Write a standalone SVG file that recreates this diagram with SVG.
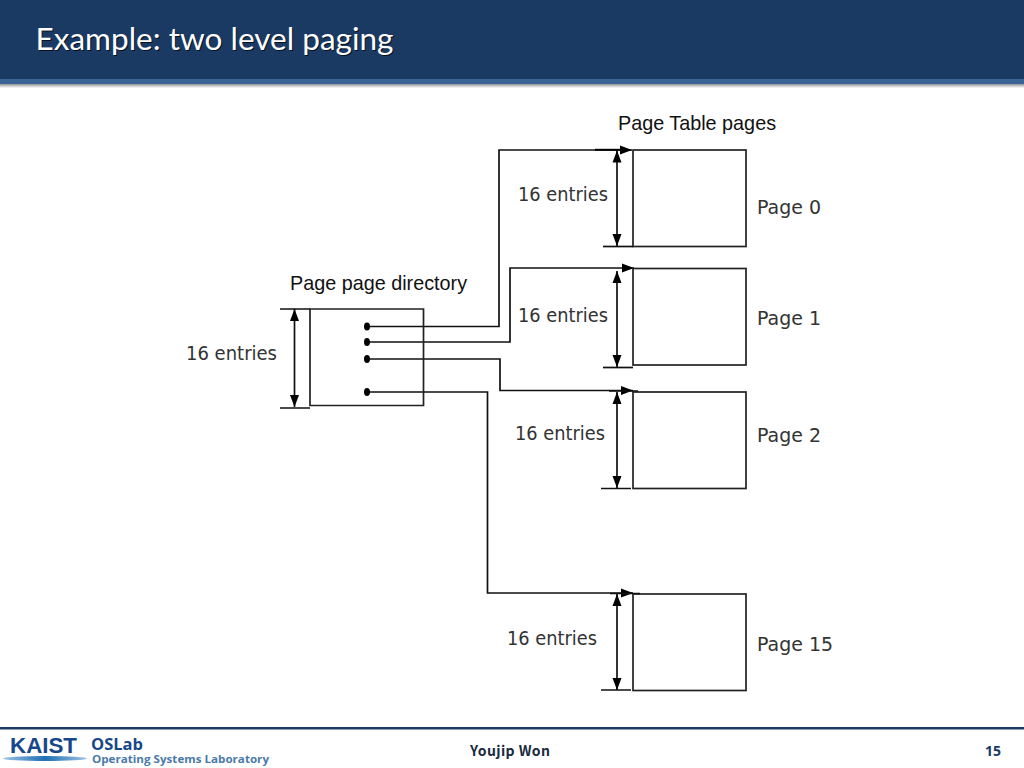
<svg xmlns="http://www.w3.org/2000/svg" width="1024" height="768" viewBox="0 0 1024 768">
<defs>
<linearGradient id="sh" x1="0" y1="0" x2="0" y2="1"><stop offset="0" stop-color="#8f9299"/><stop offset="1" stop-color="#ffffff"/></linearGradient>
<linearGradient id="sw" x1="0" y1="0" x2="1" y2="0"><stop offset="0" stop-color="#9cc3e6"/><stop offset="0.5" stop-color="#1f6fb2"/><stop offset="1" stop-color="#9cc3e6"/></linearGradient>
<marker id="a" viewBox="0 0 12 10" refX="12" refY="5" markerWidth="12" markerHeight="10" markerUnits="userSpaceOnUse" orient="auto-start-reverse"><path d="M0 0.500L12 5L0 9.500Z" fill="#000"/></marker>
<marker id="b" viewBox="0 0 12 10" refX="12" refY="5" markerWidth="12" markerHeight="10" markerUnits="userSpaceOnUse" orient="auto"><path d="M0 0.500L12 5L0 9.500Z" fill="#000"/></marker>
</defs>
<style>
.box{fill:#fff;stroke:#222;stroke-width:1.7}
.ln{fill:none;stroke:#111;stroke-width:1.7}
.dim{fill:none;stroke:#111;stroke-width:1.7;marker-start:url(#a);marker-end:url(#a)}
.arr{fill:none;stroke:#111;stroke-width:1.7;marker-end:url(#b)}
.k{font-family:"DejaVu Sans",sans-serif;font-size:19px;fill:#333}
.s{font-family:"Liberation Sans",Arial,sans-serif;font-size:19.800px;fill:#111}
</style>
<g id="header">
<rect x="0" y="0" width="1024" height="79" fill="#1a3a63"/>
<rect x="0" y="79" width="1024" height="5" fill="#3a6494"/>
<rect x="0" y="84" width="1024" height="4" fill="url(#sh)"/>
<text x="36.500" y="50.500" font-family="Lato,'Open Sans',sans-serif" font-size="31" fill="#000" opacity="0.7" textLength="358" lengthAdjust="spacingAndGlyphs">Example: two level paging</text>
<text x="35.500" y="49.500" font-family="Lato,'Open Sans',sans-serif" font-size="31" fill="#fff" textLength="358" lengthAdjust="spacingAndGlyphs">Example: two level paging</text>
</g>
<g id="connectors">
<path class="arr" d="M367 326.500H499V150H632"/>
<path class="arr" d="M367 342H510V268H634"/>
<path class="arr" d="M367 359H500V390.500H633"/>
<path class="arr" d="M367 392H487.500V593H633"/>
</g>
<g id="page-directory">
<path class="box" style="fill:none" d="M310 309H423.500V405.500H310Z"/>
<path class="ln" d="M280 309H310M280 408H310"/>
<path class="dim" d="M294.500 309V407"/>
<ellipse cx="367" cy="326.500" rx="3" ry="4"/><ellipse cx="367" cy="342" rx="3" ry="4"/><ellipse cx="367" cy="359" rx="3" ry="4"/><ellipse cx="367" cy="392" rx="3" ry="4"/>
<text class="s" x="290" y="290">Page page directory</text>
<text class="k" x="186" y="360" textLength="91" lengthAdjust="spacingAndGlyphs">16 entries</text>
</g>
<g id="page-0">
<rect class="box" x="633" y="150" width="113" height="96.500"/>
<path class="ln" d="M603 246.500H633"/>
<path class="dim" d="M617 150.500V246"/>
<path d="M595 149.800H622" stroke="#000" stroke-width="2"/>
<text class="k" x="518" y="201" textLength="90" lengthAdjust="spacingAndGlyphs">16 entries</text>
<text class="k" x="757" y="214" textLength="64" lengthAdjust="spacingAndGlyphs">Page 0</text>
</g>
<g id="page-1">
<rect class="box" x="633" y="268.500" width="113" height="96.500"/>
<path class="ln" d="M603 367.500H633"/>
<path class="dim" d="M617 271V367"/>
<text class="k" x="518" y="322" textLength="90" lengthAdjust="spacingAndGlyphs">16 entries</text>
<text class="k" x="757" y="325" textLength="64" lengthAdjust="spacingAndGlyphs">Page 1</text>
</g>
<g id="page-2">
<rect class="box" x="633" y="392" width="113" height="96.500"/>
<path class="ln" d="M609 391H638M601 488.500H631"/>
<path class="dim" d="M617 392V488"/>
<text class="k" x="515" y="440" textLength="90" lengthAdjust="spacingAndGlyphs">16 entries</text>
<text class="k" x="757" y="442" textLength="64" lengthAdjust="spacingAndGlyphs">Page 2</text>
</g>
<g id="page-15">
<rect class="box" x="633" y="594" width="113" height="96.500"/>
<path class="ln" d="M610 593.500H640M601 690H631"/>
<path class="dim" d="M617 594V690"/>
<text class="k" x="507" y="645" textLength="90" lengthAdjust="spacingAndGlyphs">16 entries</text>
<text class="k" x="757" y="651" textLength="76" lengthAdjust="spacingAndGlyphs">Page 15</text>
</g>
<text class="s" x="618" y="130">Page Table pages</text>
<g id="footer">
<rect x="0" y="727" width="1024" height="2.500" fill="#1a3a63"/>
<text x="10" y="753" font-family="'Liberation Sans',sans-serif" font-weight="700" font-size="22" fill="#17478a" textLength="67" lengthAdjust="spacingAndGlyphs">KAIST</text>
<ellipse cx="45" cy="758.500" rx="42" ry="2.500" fill="url(#sw)"/>
<text x="91" y="750" font-family="'Open Sans',sans-serif" font-weight="700" font-size="16" fill="#17478a" textLength="52" lengthAdjust="spacingAndGlyphs">OSLab</text>
<text x="92" y="763" font-family="'Open Sans',sans-serif" font-weight="700" font-size="11" fill="#4a7aa8" textLength="177" lengthAdjust="spacingAndGlyphs">Operating Systems Laboratory</text>
<text x="470" y="756" font-family="'Noto Sans CJK KR','Noto Sans',sans-serif" font-weight="700" font-size="14" fill="#1a2a40" textLength="80">Youjip Won</text>
<text x="993" y="756" text-anchor="middle" font-family="'Open Sans',sans-serif" font-weight="700" font-size="14" fill="#1a3a63">15</text>
</g>
</svg>
